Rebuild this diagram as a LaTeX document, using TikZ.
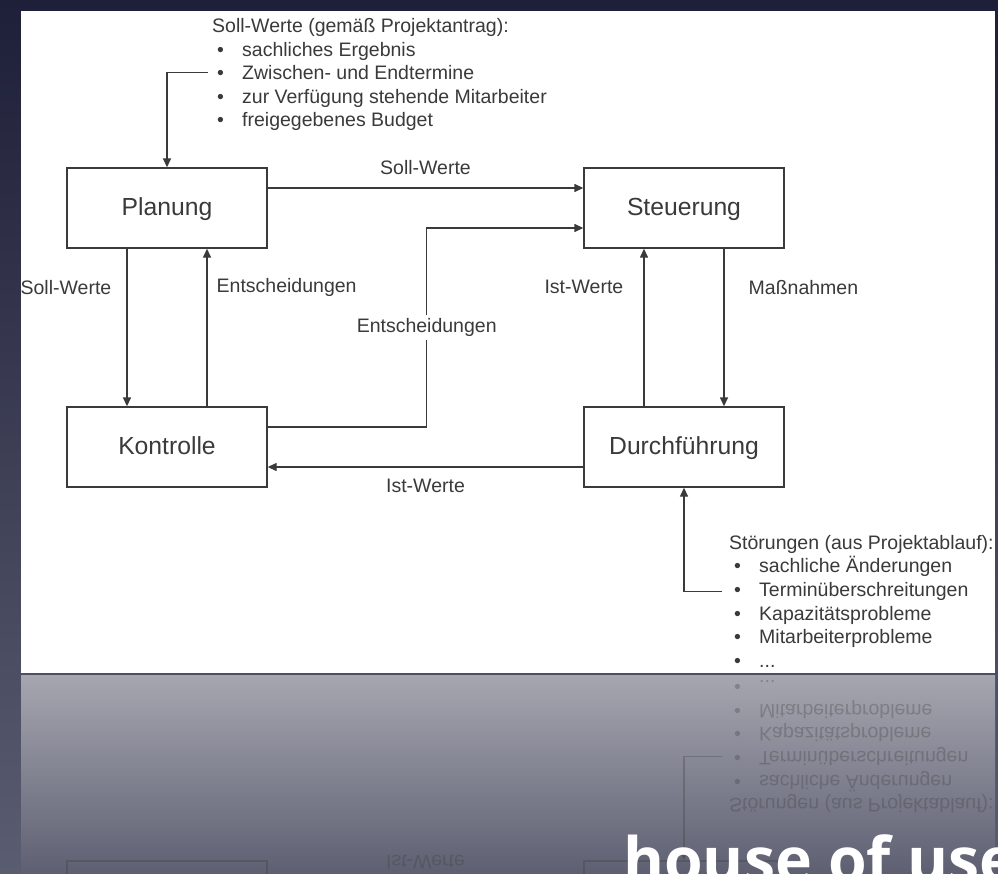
\documentclass[tikz,border=0pt]{standalone}
\usepackage{fontspec}
\setmainfont{Liberation Sans}
\newfontfamily\brandfont{Open Sans}
\usepackage{tikz}
\usetikzlibrary{positioning,arrows.meta}

\definecolor{slidetop}{HTML}{1E1F38}
\definecolor{slidebottom}{HTML}{5A5C70}
\definecolor{mirrortop}{HTML}{A6A6B0}
\definecolor{mirrorbottom}{HTML}{5E6072}
\definecolor{inkgray}{HTML}{3A3A3A}

\tikzset{
  phase/.style={draw=inkgray, line width=1.4pt, minimum width=200pt, minimum height=80pt,
    text height=18pt, text depth=4pt, font=\fontsize{24.7}{28}\selectfont, text=inkgray},
  lbl/.style={font=\fontsize{19.5}{23.6}\selectfont, text=inkgray, inner sep=0pt},
  item/.style={lbl, anchor=base west},
  flow/.style={draw=inkgray, line width=1.4pt, -{Triangle[length=9pt,width=8pt]}},
}

% the control loop, drawn once on the slide and once in the reflection
\newcommand{\regelkreis}{%
  \node[phase] (planung) at (167,208) {Planung};
  \node[phase, on grid, right=517pt of planung] (steuerung) {Steuerung};
  \node[phase, on grid, below=239pt of planung] (kontrolle) {Kontrolle};
  \node[phase, on grid, below=239pt of steuerung] (durchf) {Durchführung};
  % Soll-Werte list
  \node[item] (sollkopf) at (212,32.5) {Soll-Werte (gemäß Projektantrag):};
  \foreach \txt [count=\i] in {sachliches Ergebnis, Zwischen- und Endtermine,
      zur Verfügung stehende Mitarbeiter, freigegebenes Budget}
    \node[item] (s\i) at (217,32.5+23.6*\i) {\makebox[25pt][l]{\textbullet}\txt};
  % Stoerungen list
  \node[item] (stoerkopf) at (729,549.3) {Störungen (aus Projektablauf):};
  \foreach \txt [count=\i] in {sachliche Änderungen, Terminüberschreitungen,
      Kapazitätsprobleme, Mitarbeiterprobleme}
    \node[item] (t\i) at (734,549.3+23.6*\i) {\makebox[25pt][l]{\textbullet}\txt};
  \node[item] (t5) at (734,667.3) {\makebox[25pt][l]{\textbullet}...};
  % connectors
  \draw[flow] ([xshift=-9pt]s2.west) -| (planung.north);
  \draw[flow] ([xshift=-12pt]t2.west) -| (durchf.south);
  \draw[flow] ([yshift=20pt]planung.east) -- node[lbl, above=13pt] {Soll-Werte} ([yshift=20pt]steuerung.west);
  \draw[flow] ([yshift=-20pt]durchf.west) -- node[lbl, below=11pt] {Ist-Werte} ([yshift=-20pt]kontrolle.east);
  \draw[flow] ([yshift=20pt]kontrolle.east) -- ++(159,0)
    |- node[lbl, pos=.25, fill=white, inner sep=3pt] {Entscheidungen} ([yshift=-20pt]steuerung.west);
  \draw[flow] ([xshift=-40pt]planung.south) -- node[lbl, pos=.245, left=15pt] {Soll-Werte} ([xshift=-40pt]kontrolle.north);
  \draw[flow] ([xshift=40pt]kontrolle.north) -- node[lbl, pos=.755, right=9pt] {Entscheidungen} ([xshift=40pt]planung.south);
  \draw[flow] ([xshift=-40pt]durchf.north) -- node[lbl, pos=.755, left=20pt] {Ist-Werte} ([xshift=-40pt]steuerung.south);
  \draw[flow] ([xshift=40pt]steuerung.south) -- node[lbl, pos=.245, right=24pt] {Maßnahmen} ([xshift=40pt]durchf.north);
}

\begin{document}
\begin{tikzpicture}[x=1pt, y=-1pt]
  \useasboundingbox (0,0) rectangle (998,873);
  \shade[top color=slidetop, bottom color=slidebottom] (0,0) rectangle (998,873);
  \fill[white] (21,11) rectangle (995,673);
  \shade[top color=mirrortop, bottom color=mirrorbottom] (21,675) rectangle (995,873);

  \regelkreis

  % reflection
  \begin{scope}
    \clip (21,675) rectangle (995,873);
    \begin{scope}[yshift=-1348pt, yscale=-1, transform shape, opacity=.3]
      \regelkreis
    \end{scope}
  \end{scope}

  \node[anchor=base west, inner sep=0pt, text=white,
    font=\brandfont\bfseries\fontsize{62.5}{66}\selectfont] (marke) at (623,882) {house of use};
\end{tikzpicture}
\end{document}
